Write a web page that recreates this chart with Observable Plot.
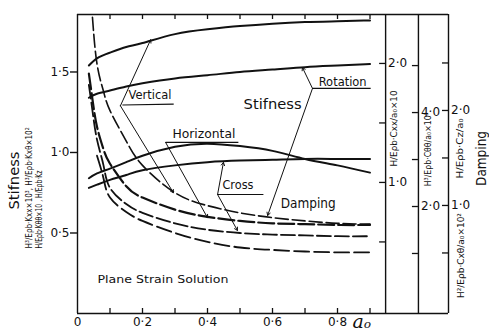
<!DOCTYPE html>
<html><head><meta charset="utf-8">
<script src="https://cdn.jsdelivr.net/npm/d3@7"></script>
<script src="https://cdn.jsdelivr.net/npm/@observablehq/plot@0.6"></script>
<style>body{margin:0;background:#fff} svg{display:block}</style>
</head><body><div id="chart"></div>
<script>
// ---- data ----
const stiffA0 = [0.035, 0.06, 0.1, 0.15, 0.2, 0.3, 0.4, 0.5, 0.6, 0.7, 0.8, 0.9];
const vertical   = [1.54, 1.585, 1.62, 1.655, 1.68, 1.735, 1.765, 1.785, 1.80, 1.81, 1.815, 1.82];
const rotation   = [1.34, 1.365, 1.385, 1.41, 1.43, 1.46, 1.48, 1.50, 1.515, 1.53, 1.54, 1.55];
const horizontal = [0.84, 0.87, 0.90, 0.94, 0.98, 1.035, 1.055, 1.04, 1.01, 0.96, 0.92, 0.875];
const cross      = [0.78, 0.80, 0.83, 0.86, 0.89, 0.92, 0.94, 0.95, 0.955, 0.96, 0.96, 0.96];

const dampA0 = [0.035, 0.046, 0.06, 0.08, 0.1, 0.15, 0.2, 0.3, 0.4, 0.5, 0.6, 0.7, 0.8, 0.9];
const damp1 = [null, 1.84, 1.55, 1.38, 1.26, 1.07, 0.92, 0.75, 0.67, 0.625, 0.595, 0.575, 0.56, 0.555];
const damp2 = [1.49, 1.33, 1.16, 1.02, 0.93, 0.79, 0.72, 0.645, 0.60, 0.575, 0.56, 0.555, 0.55, 0.55];
const damp3 = [1.42, 1.26, 1.08, 0.92, 0.78, 0.68, 0.625, 0.56, 0.52, 0.50, 0.49, 0.485, 0.48, 0.48];
const damp4 = [null, null, 0.98, 0.84, 0.72, 0.63, 0.575, 0.50, 0.445, 0.41, 0.395, 0.385, 0.38, 0.38];

const xTickLabels = [0, 0.2, 0.4, 0.6, 0.8];
const xMinorTicks = [0.1, 0.2, 0.3, 0.4, 0.5, 0.6, 0.7, 0.8, 0.9];
const leftTicks = [0.5, 1.0, 1.5];

// secondary (damping) axes: tick values, labelled values, and two reference readings (value -> left-axis units)
const dampAxis1 = {ticks: [0.5, 1, 1.5, 2], labels: [1, 2], ref: [[0, 0.075], [2, 1.553]]};
const dampAxis2 = {ticks: [1, 2, 3, 4, 5], labels: [2, 4], ref: [[0, 0.081], [4, 1.248]]};
const dampAxis3 = {ticks: [0.5, 1, 1.5, 2, 2.5], labels: [1, 2], ref: [[0, 0.081], [2, 1.261]]};

// ---- layout ----
const W = 489, H = 331;
const xMax = 1.1415, yMax = 1.857;
const frameRight = 0.948, axis2X = 1.049, axis3X = 1.1415;
const tickLenX = 6 / 325, tickLenY = 5 / 161;
const ink = "#111";
const fmt = v => v === 0 ? "0" : v.toFixed(1).replace(".", "·");

const pts = (xs, ys) => xs.map((x, i) => ({x, y: ys[i]}));

const axesData = [
  {ax: frameRight, def: dampAxis1},
  {ax: axis2X, def: dampAxis2},
  {ax: axis3X, def: dampAxis3}
];
const rightTicks = [], rightLabels = [];
for (const {ax, def} of axesData) {
  const s = d3.scaleLinear().domain([def.ref[0][0], def.ref[1][0]]).range([def.ref[0][1], def.ref[1][1]]);
  for (const t of def.ticks) rightTicks.push({x1: ax - tickLenX, x2: ax, y: s(t)});
  for (const t of def.labels) rightLabels.push({x: ax + 2.5 / 325, y: s(t), text: fmt(t)});
}

const notes = [
  {text: "Vertical", x: 0.157, y: 1.354, size: 11.5, len: 43},
  {text: "Horizontal", x: 0.292, y: 1.112, size: 11.5, len: 63},
  {text: "Rotation", x: 0.742, y: 1.435, size: 11.5, len: 48},
  {text: "Cross", x: 0.446, y: 0.795, size: 11.5, len: 31},
  {text: "Stifness", x: 0.511, y: 1.298, size: 14, len: 58},
  {text: "Damping", x: 0.625, y: 0.683, size: 14, len: 62},
  {text: "Plane Strain Solution", x: 0.0615, y: 0.211, size: 11, len: 131}
];
const underlines = [
  {x1: 0.138, y1: 1.295, x2: 0.296, y2: 1.30},
  {x1: 0.271, y1: 1.063, x2: 0.495, y2: 1.063},
  {x1: 0.723, y1: 1.398, x2: 0.902, y2: 1.398},
  {x1: 0.431, y1: 0.739, x2: 0.572, y2: 0.739}
];
const leaders = [
  {x1: 0.132, y1: 1.29, x2: 0.225, y2: 1.70},
  {x1: 0.132, y1: 1.29, x2: 0.295, y2: 0.75},
  {x1: 0.271, y1: 1.063, x2: 0.40, y2: 0.595},
  {x1: 0.723, y1: 1.398, x2: 0.692, y2: 1.528},
  {x1: 0.723, y1: 1.398, x2: 0.585, y2: 0.609},
  {x1: 0.431, y1: 0.739, x2: 0.449, y2: 0.938},
  {x1: 0.431, y1: 0.739, x2: 0.492, y2: 0.516}
];
const sideTitles = [
  {text: "Stifness", x: -0.195, y: 0.826, size: 14, len: 58},
  {text: "H³/Eρb·Kxx×10³, H³/Eρb·Kxθ×10²", x: -0.148, y: 0.78, size: 8.5, len: 121},
  {text: "H/Eρb·Kθθ×10 , H/Eρb·Kz", x: -0.118, y: 0.646, size: 8.5, len: 78},
  {text: "H/Eρb·Cxx/a₀×10", x: 0.975, y: 1.149, size: 8.5, len: 76},
  {text: "H³/Eρb·Cθθ/a₀×10³", x: 1.08, y: 1.02, size: 8.5, len: 74},
  {text: "H/Eρb·Cz/a₀", x: 1.178, y: 1.025, size: 8.5, len: 60},
  {text: "Damping", x: 1.243, y: 0.963, size: 14, len: 55},
  {text: "H²/Eρb·Cxθ/a₀×10²", x: 1.18, y: 0.36, size: 8.5, len: 85}
];

const font = "DejaVu Sans, sans-serif";

const chart = Plot.plot({
  width: W, height: H,
  marginLeft: 77, marginRight: W - 448, marginTop: 14, marginBottom: 18,
  style: {fontFamily: font, background: "#fff", color: ink},
  x: {domain: [0, xMax]},
  y: {domain: [0, yMax]},
  marks: [
    Plot.ruleY([0], {x1: 0, x2: xMax, stroke: ink, strokeWidth: 1.6}),
    Plot.ruleY([yMax], {x1: 0, x2: xMax, stroke: ink, strokeWidth: 1.6}),
    Plot.ruleX([0, frameRight, axis2X, axis3X], {y1: 0, y2: yMax, stroke: ink, strokeWidth: 1.4}),
    Plot.ruleX(xMinorTicks, {y1: 0, y2: tickLenY, stroke: ink, strokeWidth: 1.3}),
    Plot.ruleX(xMinorTicks, {y1: yMax - tickLenY, y2: yMax, stroke: ink, strokeWidth: 1.3}),
    Plot.axisX({ticks: xTickLabels, tickSize: 0, tickPadding: 4, tickFormat: fmt, fontSize: 12, label: null}),
    Plot.axisY({ticks: leftTicks, tickSize: 7, tickPadding: 1, tickFormat: fmt, fontSize: 12, label: null, strokeWidth: 1.4}),
    Plot.ruleY(rightTicks, {x1: "x1", x2: "x2", y: "y", stroke: ink, strokeWidth: 1.3}),
    Plot.text(rightLabels, {x: "x", y: "y", text: "text", textAnchor: "start", fontSize: 12, fill: ink}),
    ...[vertical, rotation, horizontal, cross].map(v =>
      Plot.line(pts(stiffA0, v), {x: "x", y: "y", curve: "natural", stroke: ink, strokeWidth: 2})),
    Plot.line(pts(dampA0, damp1), {x: "x", y: "y", curve: "natural", stroke: ink, strokeWidth: 1.6, strokeDasharray: "13,4"}),
    Plot.line(pts(dampA0, damp2), {x: "x", y: "y", curve: "natural", stroke: ink, strokeWidth: 2.2, strokeDasharray: "16,4"}),
    Plot.line(pts(dampA0, damp3), {x: "x", y: "y", curve: "natural", stroke: ink, strokeWidth: 1.8, strokeDasharray: "14,4"}),
    Plot.line(pts(dampA0, damp4), {x: "x", y: "y", curve: "natural", stroke: ink, strokeWidth: 1.8, strokeDasharray: "15,5"}),
    Plot.link(underlines, {x1: "x1", y1: "y1", x2: "x2", y2: "y2", stroke: ink, strokeWidth: 1.2}),
    Plot.arrow(leaders, {x1: "x1", y1: "y1", x2: "x2", y2: "y2", stroke: ink, strokeWidth: 1, headLength: 5, bend: 0}),
    Plot.text(notes, {x: "x", y: "y", text: "text", textAnchor: "start", fontSize: d => d.size, fill: ink}),
    Plot.text(sideTitles, {x: "x", y: "y", text: "text", rotate: -90, textAnchor: "middle", fontSize: d => d.size, fill: ink}),
    Plot.text(["aₒ"], {x: 0.846, y: -0.052, text: d => d, textAnchor: "start", fontSize: 19, fontStyle: "italic", fontFamily: "DejaVu Serif, serif", fill: ink})
  ]
});

const lenMap = new Map([...notes, ...sideTitles].map(d => [d.text, d.len]));
d3.select(chart).selectAll("text").each(function() {
  const L = lenMap.get(this.textContent);
  if (L) { this.setAttribute("textLength", L); this.setAttribute("lengthAdjust", "spacingAndGlyphs"); }
});
document.getElementById("chart").appendChild(chart);
</script>
</body></html>
